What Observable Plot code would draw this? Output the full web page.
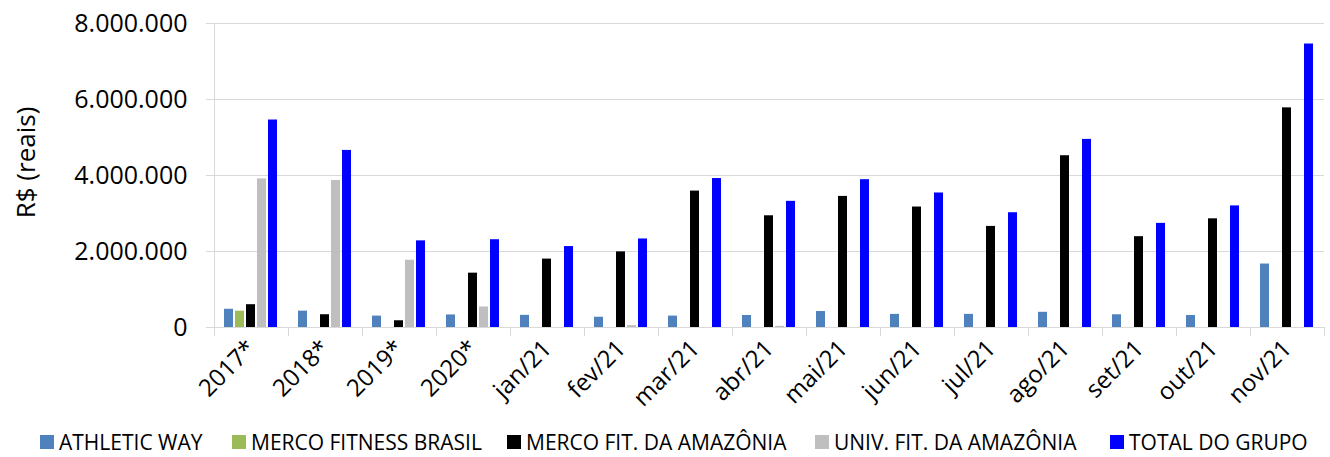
<!DOCTYPE html>
<html><head><meta charset="utf-8">
<script src="https://cdn.jsdelivr.net/npm/d3@7"></script>
<script src="https://cdn.jsdelivr.net/npm/@observablehq/plot@0.6"></script>
<style>
body{margin:0;background:#fff;font-family:"Open Sans",sans-serif;}
#chart{position:relative;width:1330px;height:457px;overflow:hidden;}
#legend{position:absolute;top:425px;left:0;width:1330px;height:32px;}
.item{position:absolute;top:6px;display:flex;align-items:center;font-size:21px;color:#000;line-height:22px;white-space:nowrap;}
.sw{width:14px;height:14px;margin-right:5px;}
</style></head><body><div id="chart"><div id="plot"></div><div id="legend"></div></div>
<script>
const categories = ["2017*","2018*","2019*","2020*","jan/21","fev/21","mar/21","abr/21","mai/21","jun/21","jul/21","ago/21","set/21","out/21","nov/21"];
const seriesNames = ["ATHLETIC WAY","MERCO FITNESS BRASIL","MERCO FIT. DA AMAZÔNIA","UNIV. FIT. DA AMAZÔNIA","TOTAL DO GRUPO"];
const athleticWay = [480000,430000,300000,330000,320000,270000,300000,316000,420000,345000,345000,400000,335000,315000,1670000];
const mercoFitnessBrasil = [430000,0,0,0,0,0,0,0,0,0,0,0,0,0,0];
const mercoFitAmazonia = [600000,336000,177000,1430000,1800000,1990000,3590000,2940000,3450000,3170000,2660000,4520000,2390000,2860000,5780000];
const univFitAmazonia = [3910000,3870000,1770000,540000,0,50000,0,30000,0,0,0,0,0,0,0];
const totalGrupo = [5460000,4660000,2280000,2310000,2130000,2330000,3920000,3320000,3890000,3540000,3020000,4950000,2740000,3200000,7460000];
const seriesColors = ["#4f81bd","#9bbb59","#000000","#bfbfbf","#0000ff"];
const yTicks = [0,2000000,4000000,6000000,8000000];
const yTickLabels = ["0","2.000.000","4.000.000","6.000.000","8.000.000"];
const yTitle = "R$ (reais)";

const seriesValues = [athleticWay, mercoFitnessBrasil, mercoFitAmazonia, univFitAmazonia, totalGrupo];
const table = categories.flatMap((c,i)=>seriesNames.map((s,j)=>({category:c, series:s, value:seriesValues[j][i]})));
const grid = "#d9d9d9";

const plot = Plot.plot({
  width:1330, height:425,
  marginTop:23, marginBottom:98, marginLeft:213, marginRight:5,
  style:{fontFamily:'"Open Sans", sans-serif', background:"#fff", color:"#000", overflow:"visible"},
  fx:{domain:categories, padding:0, label:null},
  x:{domain:seriesNames, paddingInner:0.16, paddingOuter:0.86, axis:null},
  y:{domain:[0,8000000], label:null},
  color:{domain:seriesNames, range:seriesColors},
  marks:[
    Plot.gridY(yTicks, {stroke:grid, strokeOpacity:1}),
    Plot.frame({anchor:"left", stroke:grid, insetTop:304, insetBottom:-8}),
    Plot.frame({anchor:"right", stroke:grid, insetTop:304, insetBottom:-8}),
    Plot.frame({anchor:"left", stroke:grid, insetBottom:-8, facetAnchor:"left"}),
    Plot.ruleY([0], {stroke:grid}),
    Plot.barY(table, {fx:"category", x:"series", y:"value", fill:"series"}),
    Plot.axisY(yTicks, {tickSize:8, tickPadding:19, stroke:grid, strokeOpacity:1, fontSize:25,
      tickFormat:d=>yTickLabels[yTicks.indexOf(d)], label:null}),
    Plot.text([yTitle], {frameAnchor:"left", textAnchor:"middle", lineAnchor:"middle", rotate:-90, dx:-188, dy:-13, fontSize:26, fill:"#000", facetAnchor:"left"}),
    Plot.axisFx({anchor:"bottom", tickRotate:-45, tickSize:0, tickPadding:17, fontSize:24, label:null})
  ]
});
document.getElementById("plot").appendChild(plot);

const legendLefts = [40,232,507,815,1110];
const lg = d3.select("#legend");
seriesNames.forEach((s,i)=>{
  const it = lg.append("div").attr("class","item").style("left", legendLefts[i]+"px");
  it.append("div").attr("class","sw").style("background", seriesColors[i]);
  it.append("span").text(s);
});
</script></body></html>
